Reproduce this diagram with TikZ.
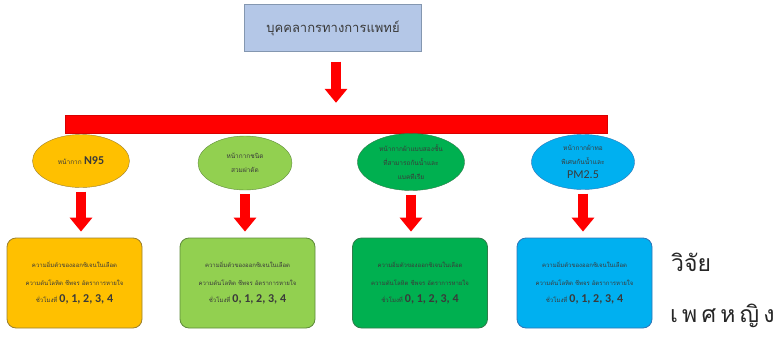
\documentclass[tikz,border=0pt]{standalone}
\usepackage{fontspec}
\setmainfont[Script=Thai]{Loma}
\newfontfamily\latinfont{Carlito}
\newfontfamily\spacedfont[Script=Thai,LetterSpace=18]{Loma}
\usetikzlibrary{shapes.geometric,arrows.meta}
\definecolor{staffblue}{HTML}{B4C7E7}
\definecolor{staffline}{HTML}{8497B0}
\definecolor{maskorange}{HTML}{FFC000}
\definecolor{orangeline}{HTML}{9A7F2E}
\definecolor{masklime}{HTML}{92D050}
\definecolor{limeline}{HTML}{5E8A3A}
\definecolor{maskgreen}{HTML}{00B050}
\definecolor{greenline}{HTML}{2F7D4A}
\definecolor{maskblue}{HTML}{00B0F0}
\definecolor{blueline}{HTML}{2E75B6}
\definecolor{inktext}{HTML}{3A3A3A}
\begin{document}
\begin{tikzpicture}[
	x=1pt, y=-1pt,
	staff/.style={ draw=staffline, fill=staffblue, minimum width=177pt, minimum height=47pt, inner sep=0pt, font=\fontsize{13}{15}\selectfont, text=inktext },
	redbar/.style={ fill=red, draw=red!85!black, minimum width=542pt, minimum height=18pt, inner sep=0pt },
	mask/.style={ ellipse, draw, inner sep=0pt, align=center, text=inktext, font=\fontsize{6.5}{14}\selectfont },
	result/.style={ rectangle, rounded corners=9pt, draw, thick, minimum width=135pt, minimum height=90pt, inner sep=0pt, align=center, text=inktext, font=\fontsize{6}{17.5}\selectfont },
	redarrow/.style={ draw=red, line width=10pt, -{Triangle[width=22pt,length=14pt]} },
	note/.style={ anchor=west, inner sep=0pt, text=black!85, font=\fontsize{23}{26}\selectfont }
]
\useasboundingbox (0,0) rectangle (782,343);

\node at (333,28) (staff) [staff] {บุคคลากรทางการแพทย์};
\node at (336,124) (bar) [redbar] {};

\node at (81,161) (n95) [mask,fill=maskorange,draw=orangeline,minimum width=97pt,minimum height=53pt] {หน้ากาก {\latinfont\bfseries\fontsize{12}{14}\selectfont N95}};
\node at (245,163) (surgical) [mask,fill=masklime,draw=limeline,minimum width=94pt,minimum height=54pt] {หน้ากากชนิด\\สวมผ่าตัด};
\node at (411,162) (cloth) [mask,fill=maskgreen,draw=greenline,minimum width=107pt,minimum height=57pt] {หน้ากากผ้าแบบสองชั้น\\ที่สามารถกันน้ำและ\\แบคทีเรีย};
\node at (583,162) (pm) [mask,fill=maskblue,draw=blueline,minimum width=103pt,minimum height=55pt] {หน้ากากผ้าทอ\\พิเศษกันน้ำและ\\{\latinfont\fontsize{12}{14}\selectfont PM2.5}};

\node at (74.5,283) (res1) [result,fill=maskorange,draw=orangeline] {ความอิ่มตัวของออกซิเจนในเลือด\\ความดันโลหิต ชีพจร อัตราการหายใจ\\ชั่วโมงที่ {\latinfont\bfseries\fontsize{12}{14}\selectfont 0, 1, 2, 3, 4}};
\node at (247.5,283) (res2) [result,fill=masklime,draw=limeline] {ความอิ่มตัวของออกซิเจนในเลือด\\ความดันโลหิต ชีพจร อัตราการหายใจ\\ชั่วโมงที่ {\latinfont\bfseries\fontsize{12}{14}\selectfont 0, 1, 2, 3, 4}};
\node at (420,283) (res3) [result,fill=maskgreen,draw=greenline] {ความอิ่มตัวของออกซิเจนในเลือด\\ความดันโลหิต ชีพจร อัตราการหายใจ\\ชั่วโมงที่ {\latinfont\bfseries\fontsize{12}{14}\selectfont 0, 1, 2, 3, 4}};
\node at (584.5,283) (res4) [result,fill=maskblue,draw=blueline] {ความอิ่มตัวของออกซิเจนในเลือด\\ความดันโลหิต ชีพจร อัตราการหายใจ\\ชั่วโมงที่ {\latinfont\bfseries\fontsize{12}{14}\selectfont 0, 1, 2, 3, 4}};

\node at (671,262) (study) [note] {วิจัย};
\node at (670,316) (female) [note] {\spacedfont เพศหญิง};

\draw[redarrow,shorten <=10pt,shorten >=12pt] (staff.south -| bar.north) to (bar.north);
\draw[redarrow,shorten <=4pt,shorten >=6pt] (n95.south) to (n95.south |- res1.north);
\draw[redarrow,shorten <=4pt,shorten >=6pt] (surgical.south) to (surgical.south |- res2.north);
\draw[redarrow,shorten <=4pt,shorten >=6pt] (cloth.south) to (cloth.south |- res3.north);
\draw[redarrow,shorten <=4pt,shorten >=6pt] (pm.south) to (pm.south |- res4.north);

\end{tikzpicture}
\end{document}
